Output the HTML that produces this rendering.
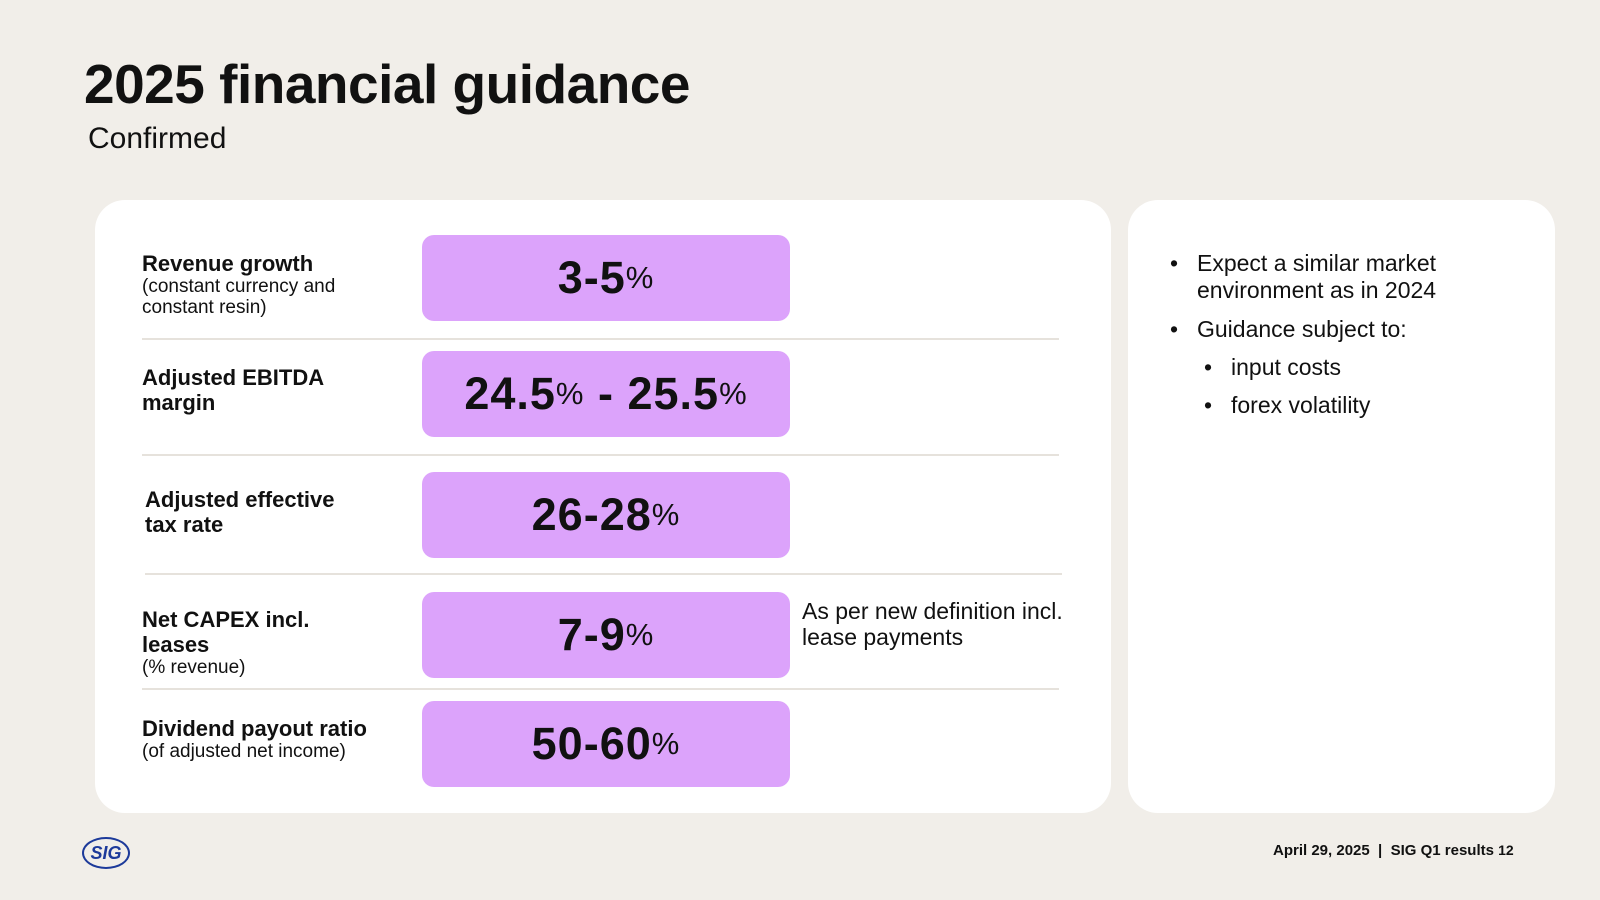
<!DOCTYPE html>
<html><head><meta charset="utf-8"><style>
body{margin:0;width:1600px;height:900px;background:#f1eee9;font-family:"Liberation Sans",sans-serif;color:#111;position:relative;overflow:hidden}
.a{position:absolute}
.card{background:#fff;border-radius:30px}
.box{position:absolute;left:422px;width:368px;height:86px;background:#dca3fb;border-radius:12px;display:flex;align-items:center;justify-content:center;font-size:45px;font-weight:bold;letter-spacing:1px}
.box small{font-size:31px;font-weight:normal}
.lbl{position:absolute;left:142px;font-size:22px;font-weight:bold;line-height:25px}
.lbl span{font-weight:normal;font-size:19px;line-height:21px;display:block}
.line{position:absolute;left:142px;width:917px;height:2px;background:#e6e2dc}
.bul{position:absolute;font-size:23px;line-height:27px}
.bul:before{content:"•";position:absolute;left:-27px}
</style></head><body>
<div class="a" style="left:84px;top:52px;font-size:55px;font-weight:bold;letter-spacing:-0.5px">2025 financial guidance</div>
<div class="a" style="left:88px;top:122px;font-size:30px">Confirmed</div>
<div class="a card" style="left:95px;top:200px;width:1016px;height:613px"></div>
<div class="a card" style="left:1128px;top:200px;width:427px;height:613px"></div>

<div class="lbl" style="top:251px">Revenue growth<span>(constant currency and<br>constant resin)</span></div>
<div class="box" style="top:235px">3-5<small>%</small></div>
<div class="line" style="top:338px"></div>

<div class="lbl" style="top:365px">Adjusted EBITDA<br>margin</div>
<div class="box" style="top:351px">24.5<small>%</small>&nbsp;-&nbsp;25.5<small>%</small></div>
<div class="line" style="top:454px"></div>

<div class="lbl" style="top:487px;left:145px">Adjusted effective<br>tax rate</div>
<div class="box" style="top:472px">26-28<small>%</small></div>
<div class="line" style="top:573px;left:145px"></div>

<div class="lbl" style="top:607px">Net CAPEX incl.<br>leases<span>(% revenue)</span></div>
<div class="box" style="top:592px">7-9<small>%</small></div>
<div class="a" style="left:802px;top:598px;font-size:23px;line-height:26px">As per new definition incl.<br>lease payments</div>
<div class="line" style="top:688px"></div>

<div class="lbl" style="top:716px">Dividend payout ratio<span>(of adjusted net income)</span></div>
<div class="box" style="top:701px">50-60<small>%</small></div>

<div class="bul" style="left:1197px;top:250px">Expect a similar market<br>environment as in 2024</div>
<div class="bul" style="left:1197px;top:316px">Guidance subject to:</div>
<div class="bul" style="left:1231px;top:354px">input costs</div>
<div class="bul" style="left:1231px;top:392px">forex volatility</div>

<div class="a" style="left:82px;top:837px;width:44px;height:28px;border:2px solid #1d3a9a;border-radius:50%;color:#1d3a9a;font-weight:bold;font-style:italic;font-size:18px;text-align:center;line-height:28px">SIG</div>
<div class="a" style="left:1273px;top:842px;font-size:15px;font-weight:bold">April 29, 2025 &nbsp;|&nbsp; SIG Q1 results <span style="font-size:14px">12</span></div>
</body></html>
